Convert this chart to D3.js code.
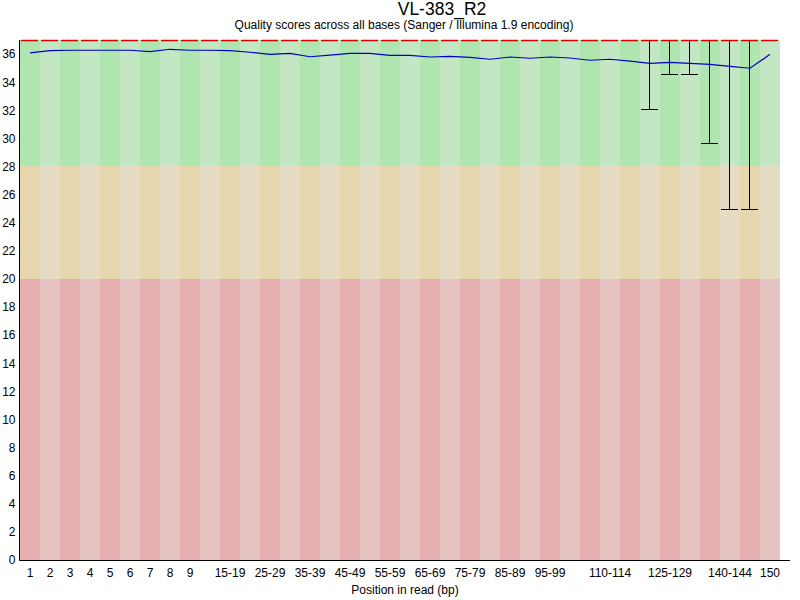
<!DOCTYPE html>
<html>
<head>
<meta charset="utf-8">
<script src="https://cdn.jsdelivr.net/npm/d3@7"></script>
<style>
  body { margin: 0; background: #fff; }
  svg text { font-family: "Liberation Sans", Arial, sans-serif; fill: #000; }
</style>
</head>
<body>
<svg id="chart" width="800" height="600"></svg>
<script>
// positions in read (bins)
var categories = ['1','2','3','4','5','6','7','8','9',
    '10-14','15-19','20-24','25-29','30-34','35-39','40-44','45-49','50-54','55-59',
    '60-64','65-69','70-74','75-79','80-84','85-89','90-94','95-99','100-104','105-109',
    '110-114','115-119','120-124','125-129','130-134','135-139','140-144','145-149','150'];

// only these x labels are printed (the rest would overlap)
var shownTicks = ['1','2','3','4','5','6','7','8','9','15-19','25-29','35-39','45-49',
    '55-59','65-69','75-79','85-89','95-99','110-114','125-129','140-144','150'];

var meanQ = [36.08, 36.25, 36.27, 36.27, 36.27, 36.27, 36.17, 36.34, 36.27, 36.27,
    36.25, 36.13, 35.98, 36.05, 35.81, 35.93, 36.05, 36.05, 35.91, 35.91,
    35.79, 35.84, 35.77, 35.63, 35.79, 35.70, 35.79, 35.72, 35.56, 35.63,
    35.49, 35.34, 35.41, 35.34, 35.27, 35.13, 34.99, 35.98];

var medianQ = [37,37,37,37,37,37,37,37,37,37,37,37,37,37,37,37,37,37,37,
    37,37,37,37,37,37,37,37,37,37,37,37,37,37,37,37,37,37,37];

// 10th percentile (lower whisker); 37 means no visible whisker
var lowerQ = [37,37,37,37,37,37,37,37,37,37,37,37,37,37,37,37,37,37,37,
    37,37,37,37,37,37,37,37,37,37,37,37,32.1,34.6,34.6,29.7,24.95,24.95,37];
var upperQ = [37,37,37,37,37,37,37,37,37,37,37,37,37,37,37,37,37,37,37,
    37,37,37,37,37,37,37,37,37,37,37,37,37,37,37,37,37,37,37];

var yTicks = [0,2,4,6,8,10,12,14,16,18,20,22,24,26,28,30,32,34,36];

var zoneNames = ['bad','poor','good'];
var zoneFrom = [0, 20, 28];
var zoneTo = [20, 28, 37];

var zoneColors = {
    good: ['rgb(175,230,175)', 'rgb(195,230,195)'],
    poor: ['rgb(230,215,175)', 'rgb(230,220,195)'],
    bad:  ['rgb(230,175,175)', 'rgb(230,195,195)']
};

var svg = d3.select('#chart');
var plotLeft = 20, plotRight = 780, plotTop = 40, plotBottom = 560;

var x = d3.scaleBand().domain(categories).range([plotLeft, plotRight]).padding(0);
var y = d3.scaleLinear().domain([0, 37]).range([plotBottom, plotTop]);
var bw = x.bandwidth();

// background zones
var zones = zoneNames.map(function(n, i) { return {name: n, from: zoneFrom[i], to: zoneTo[i]}; });
zones.forEach(function(z) {
    svg.append('g').selectAll('rect')
        .data(categories)
        .enter()
        .append('rect')
        .attr('x', function(d) { return x(d); })
        .attr('width', bw)
        .attr('y', y(z.to))
        .attr('height', y(z.from) - y(z.to))
        .attr('shape-rendering', 'crispEdges')
        .attr('fill', function(d, i) { return zoneColors[z.name][i % 2]; });
});

// whiskers
var stats = categories.map(function(c, i) {
    return {cat: c, mean: meanQ[i], med: medianQ[i], lo: lowerQ[i], hi: upperQ[i]};
});
var wg = svg.append('g').attr('shape-rendering', 'crispEdges');
stats.filter(function(d) { return d.lo < d.hi; }).forEach(function(d) {
    var cx = x(d.cat) + bw / 2 - 0.5;
    wg.append('line').attr('x1', cx).attr('x2', cx)
        .attr('y1', y(d.hi)).attr('y2', y(d.lo) + 0.5)
        .attr('stroke', '#000').attr('stroke-width', 1);
    wg.append('line').attr('x1', cx - 9).attr('x2', cx + 8)
        .attr('y1', Math.round(y(d.lo)) + 0.5).attr('y2', Math.round(y(d.lo)) + 0.5)
        .attr('stroke', '#000').attr('stroke-width', 1);
});

// medians
svg.append('g').selectAll('line')
    .data(stats)
    .enter()
    .append('line')
    .attr('x1', function(d) { return x(d.cat) + 1; })
    .attr('x2', function(d) { return x(d.cat) + bw - 2; })
    .attr('y1', function(d) { return y(d.med) + 0.5; })
    .attr('y2', function(d) { return y(d.med) + 0.5; })
    .attr('stroke', 'rgb(220,0,0)')
    .attr('stroke-width', 1.5);

// mean line
var line = d3.line()
    .x(function(d) { return x(d.cat) + bw / 2; })
    .y(function(d) { return y(d.mean); });
svg.append('path')
    .datum(stats)
    .attr('d', line)
    .attr('fill', 'none')
    .attr('stroke', 'rgb(0,0,200)')
    .attr('stroke-width', 1.2);

// axes
var yAxis = svg.append('g').attr('transform', 'translate(' + (plotLeft - 0.5) + ',0)')
    .call(d3.axisLeft(y).tickValues(yTicks).tickSize(0).tickPadding(4));
yAxis.select('.domain').remove();
yAxis.selectAll('text').attr('font-size', 12).attr('font-family', null);
svg.append('line').attr('x1', plotLeft - 0.5).attr('x2', plotLeft - 0.5)
    .attr('y1', plotTop).attr('y2', plotBottom + 0.5).attr('stroke', '#000');

var xAxis = svg.append('g').attr('transform', 'translate(0,' + (plotBottom + 0.5) + ')')
    .call(d3.axisBottom(x).tickValues(shownTicks).tickSize(0).tickPadding(8));
xAxis.select('.domain').remove();
xAxis.selectAll('text').attr('font-size', 12).attr('font-family', null);
svg.append('line').attr('x1', plotLeft - 0.5).attr('x2', 790)
    .attr('y1', plotBottom + 0.5).attr('y2', plotBottom + 0.5).attr('stroke', '#000');

// titles
svg.append('text').attr('x', 442).attr('y', 15).attr('text-anchor', 'middle')
    .attr('font-size', 17.5).text('VL-383_R2');
svg.append('text').attr('x', 404).attr('y', 28.5).attr('text-anchor', 'middle')
    .attr('font-size', 12).text('Quality scores across all bases (Sanger / Illumina 1.9 encoding)');
svg.append('text').attr('x', 405).attr('y', 594).attr('text-anchor', 'middle')
    .attr('font-size', 12).text('Position in read (bp)');
</script>
</body>
</html>
